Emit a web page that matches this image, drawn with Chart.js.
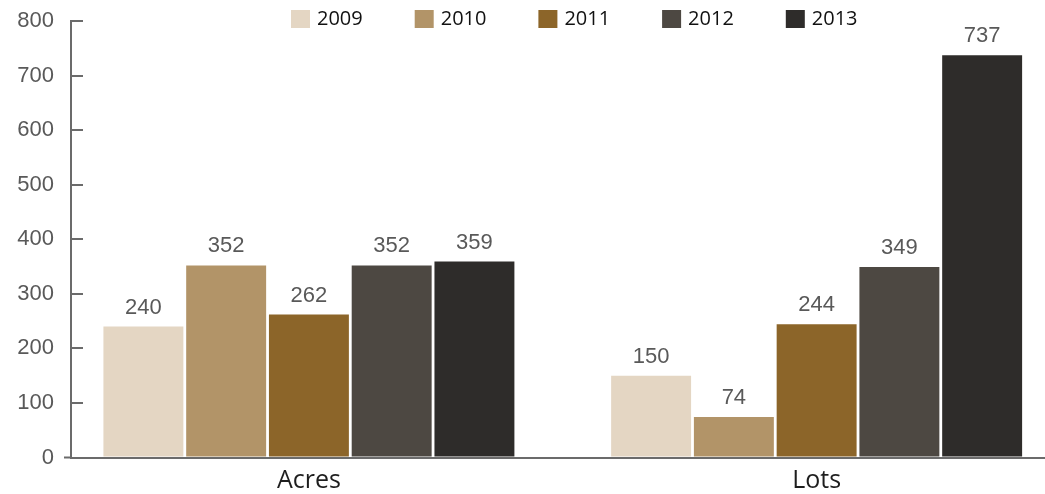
<!DOCTYPE html>
<html>
<head>
<meta charset="utf-8">
<script src="https://cdn.jsdelivr.net/npm/chart.js@4.4.1/dist/chart.umd.min.js"></script>
<style>
  html, body { margin: 0; padding: 0; background: #fff; overflow: hidden; }
  #chart { display: block; }
</style>
</head>
<body>
<canvas id="chart" width="1045" height="494"></canvas>
<script>
const categories = ["Acres", "Lots"];
const years = ["2009", "2010", "2011", "2012", "2013"];
const acres = [240, 352, 262, 352, 359];
const lots = [150, 74, 244, 349, 737];
const yTicks = [0, 100, 200, 300, 400, 500, 600, 700, 800];

const colors = ["#e4d6c3", "#b29468", "#8c6529", "#4d4842", "#2e2c2a"];
const axisColor = "#6b6b6b";

// one dataset per year, x = category index on a linear axis
const datasets = years.map((year, k) => ({
  label: year,
  data: [acres[k], lots[k]].map((v, i) => ({ x: i, y: v })),
  backgroundColor: colors[k],
  borderWidth: 0,
  categoryPercentage: 0.815,
  barPercentage: 0.966,
}));

// legend row, value above each bar, small axis bit
const extras = {
  id: "extras",
  afterDatasetsDraw(chart) {
    const ctx = chart.ctx;
    ctx.save();
    ctx.font = '22px "Liberation Sans", Arial, sans-serif';
    ctx.fillStyle = "#595959";
    ctx.textAlign = "center";
    ctx.textBaseline = "alphabetic";
    chart.data.datasets.forEach((ds, k) => {
      chart.getDatasetMeta(k).data.forEach((bar, i) => {
        ctx.fillText(ds.data[i].y, bar.x, bar.y - 13);
      });
    });
    ctx.restore();
  },
  afterDraw(chart) {
    const ctx = chart.ctx;
    ctx.save();

    // legend across the top
    ctx.font = "20px 'Open Sans'";
    ctx.textAlign = "left";
    ctx.textBaseline = "middle";
    let x = 291;
    chart.data.datasets.forEach((ds) => {
      ctx.fillStyle = ds.backgroundColor;
      ctx.fillRect(x, 10, 19, 18);
      ctx.fillStyle = "#111111";
      ctx.fillText(ds.label, x + 26, 19);
      x += 123.7;
    });

    // baseline pokes out a little to the left of the y axis
    const y0 = chart.scales.y.getPixelForValue(0);
    ctx.strokeStyle = axisColor;
    ctx.lineWidth = 2;
    ctx.beginPath();
    ctx.moveTo(chart.chartArea.left - 7, y0);
    ctx.lineTo(chart.chartArea.left, y0);
    ctx.stroke();
    ctx.restore();
  },
};

const config = {
  type: "bar",
  data: { datasets: datasets },
  options: {
    responsive: false,
    animation: false,
    layout: { padding: { top: 21, right: 0, bottom: 0, left: 0 } },
    plugins: {
      tooltip: { enabled: false },
      legend: { display: false },
    },
    scales: {
      x: {
        type: "linear",
        offset: false,
        min: -0.4686,
        max: 1.4498,
        afterBuildTicks: (s) => {
          s.ticks = categories.map((c, i) => ({ value: i }));
        },
        afterFit: (s) => {
          s.height = 36.5;
        },
        grid: { display: false, drawTicks: false },
        border: { display: true, color: axisColor, width: 2 },
        ticks: {
          callback: (v) => categories[v],
          padding: 8,
          color: "#1e1e1e",
          font: { family: "'Open Sans'", size: 25 },
          maxRotation: 0,
        },
      },
      y: {
        min: yTicks[0],
        max: yTicks[yTicks.length - 1],
        afterBuildTicks: (s) => {
          s.ticks = yTicks.map((v) => ({ value: v }));
        },
        afterFit: (s) => {
          s.width = 71;
          s.paddingTop = 0;
          s.paddingBottom = 0;
        },
        grid: {
          drawOnChartArea: false,
          drawTicks: true,
          tickLength: -12,
          color: axisColor,
          lineWidth: 2,
        },
        border: { display: true, color: axisColor, width: 2 },
        ticks: {
          padding: 29,
          color: "#595959",
          font: { family: "'Liberation Sans', Arial, sans-serif", size: 22 },
        },
      },
    },
  },
  plugins: [extras],
};

new Chart(document.getElementById("chart"), config);
</script>
</body>
</html>
